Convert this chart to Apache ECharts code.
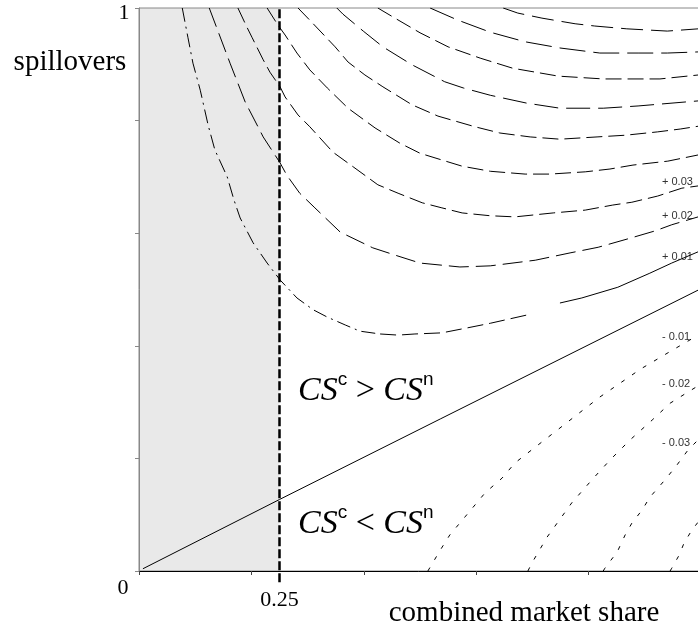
<!DOCTYPE html>
<html>
<head>
<meta charset="utf-8">
<title>CS contours</title>
<script src="https://cdn.jsdelivr.net/npm/echarts@6/dist/echarts.min.js"></script>
<style>
html, body { margin: 0; padding: 0; background: #fff; }
#chart { width: 698px; height: 632px; }
</style>
</head>
<body>
<div id="chart"></div>
<script>
// x: combined market share, y: spillovers
const shadeX = [0, 0.25]
const shadeTop = 1
const thresholdX = 0.25
const thresholdY = [-0.02, 1]

const zeroLine = [[0.007, 0.004], [0.25, 0.127], [0.536, 0.27], [0.995, 0.499]]

const plus01 = [[0.077, 1.0], [0.087, 0.948], [0.096, 0.902], [0.109, 0.854], [0.123, 0.792], [0.135, 0.748],
  [0.157, 0.700], [0.169, 0.659], [0.180, 0.627], [0.203, 0.583], [0.228, 0.547], [0.251, 0.517],
  [0.281, 0.485], [0.310, 0.464], [0.335, 0.451], [0.367, 0.437], [0.393, 0.426], [0.429, 0.421],
  [0.461, 0.419], [0.491, 0.421], [0.539, 0.423], [0.585, 0.432], [0.625, 0.440], [0.696, 0.456],
  [0.749, 0.476], [0.788, 0.485], [0.852, 0.504], [0.909, 0.529], [0.948, 0.547], [0.995, 0.567]]
const plus02 = [[0.125, 1.0], [0.162, 0.902], [0.189, 0.833], [0.221, 0.771], [0.251, 0.725], [0.263, 0.703],
  [0.286, 0.671], [0.313, 0.645], [0.358, 0.602], [0.416, 0.574], [0.459, 0.560], [0.500, 0.547],
  [0.571, 0.540], [0.625, 0.542], [0.705, 0.552], [0.767, 0.565], [0.817, 0.575], [0.870, 0.590],
  [0.918, 0.604], [0.948, 0.615], [0.995, 0.629]]
const plus03 = [[0.176, 1.0], [0.192, 0.966], [0.201, 0.948], [0.221, 0.908], [0.233, 0.886], [0.251, 0.860],
  [0.260, 0.842], [0.283, 0.810], [0.304, 0.789], [0.345, 0.744], [0.381, 0.718], [0.425, 0.686],
  [0.461, 0.671], [0.504, 0.654], [0.539, 0.645], [0.575, 0.636], [0.625, 0.631], [0.669, 0.629],
  [0.737, 0.636], [0.794, 0.641], [0.843, 0.650], [0.877, 0.655], [0.923, 0.666], [0.966, 0.680], [0.995, 0.684]]
const plus04 = [[0.228, 1.0], [0.247, 0.970], [0.260, 0.952], [0.281, 0.920], [0.304, 0.890], [0.335, 0.858],
  [0.372, 0.822], [0.420, 0.787], [0.464, 0.760], [0.500, 0.742], [0.539, 0.730], [0.575, 0.719],
  [0.625, 0.710], [0.687, 0.705], [0.731, 0.705], [0.794, 0.709], [0.838, 0.714], [0.879, 0.721],
  [0.941, 0.728], [0.995, 0.739]]
const plus05 = [[0.283, 1.0], [0.310, 0.972], [0.349, 0.931], [0.372, 0.904], [0.402, 0.881], [0.434, 0.860],
  [0.486, 0.828], [0.532, 0.808], [0.598, 0.789], [0.642, 0.778], [0.696, 0.771], [0.749, 0.767],
  [0.815, 0.771], [0.865, 0.774], [0.923, 0.780], [0.963, 0.785], [0.995, 0.790]]
const plus06 = [[0.352, 1.0], [0.363, 0.989], [0.399, 0.959], [0.434, 0.931], [0.486, 0.899], [0.544, 0.869],
  [0.577, 0.858], [0.625, 0.845], [0.690, 0.831], [0.749, 0.822], [0.826, 0.822], [0.888, 0.826], [0.995, 0.835]]
const plus07 = [[0.425, 1.0], [0.452, 0.984], [0.500, 0.956], [0.550, 0.931], [0.607, 0.911], [0.665, 0.893],
  [0.746, 0.879], [0.826, 0.874], [0.927, 0.874], [0.995, 0.881]]
const plus08 = [[0.518, 1.0], [0.566, 0.979], [0.625, 0.957], [0.687, 0.940], [0.749, 0.929], [0.820, 0.920],
  [0.888, 0.920], [0.940, 0.920], [0.995, 0.922]]
const plus09 = [[0.648, 1.0], [0.674, 0.991], [0.717, 0.982], [0.776, 0.972], [0.811, 0.968], [0.868, 0.963],
  [0.940, 0.959], [0.995, 0.963]]

const minus01 = [[0.514, 0.0], [0.536, 0.037], [0.553, 0.064], [0.580, 0.096], [0.616, 0.139], [0.646, 0.165],
  [0.669, 0.192], [0.705, 0.220], [0.740, 0.247], [0.776, 0.275], [0.820, 0.309], [0.893, 0.359],
  [0.947, 0.391], [0.995, 0.419]]
const minus02 = [[0.692, 0.0], [0.699, 0.014], [0.726, 0.060], [0.744, 0.085], [0.770, 0.121], [0.806, 0.162],
  [0.838, 0.197], [0.874, 0.233], [0.913, 0.268], [0.945, 0.298], [0.977, 0.318], [0.995, 0.329]]
const minus03 = [[0.826, 0.0], [0.829, 0.005], [0.851, 0.034], [0.865, 0.064], [0.877, 0.085], [0.895, 0.108],
  [0.909, 0.131], [0.936, 0.162], [0.957, 0.188], [0.977, 0.215], [0.995, 0.233]]
const minus04 = [[0.945, 0.0], [0.948, 0.005], [0.961, 0.028], [0.970, 0.050], [0.984, 0.073], [0.995, 0.087]]

const levelLabels = ['+ 0.03', '+ 0.02', '+ 0.01', '- 0.01', '- 0.02', '- 0.03']

const dashed = [16, 6]
const dashDot = [14, 5, 2, 5]
const dotted = [4, 9]

const contour = (data, type) => ({
  type: 'line',
  data: data,
  symbol: 'none',
  silent: true,
  lineStyle: { color: '#000', width: 1, type: type },
})

const serif = 'Liberation Serif'
const labelY = [182, 216, 257, 337, 384, 443]

const chart = echarts.init(document.getElementById('chart'))

chart.setOption({
  animation: false,
  grid: {
    left: 139,
    top: 8,
    width: 562,
    height: 563,
    outerBoundsMode: 'none',
    show: true,
    borderColor: '#888',
    borderWidth: 1,
  },
  xAxis: [
    {
      type: 'value',
      min: 0,
      max: 1,
      interval: 0.2,
      position: 'bottom',
      axisLine: { show: true, lineStyle: { color: '#000', width: 1 } },
      axisTick: { show: true, length: 4, lineStyle: { color: '#444' } },
      axisLabel: { show: false },
      splitLine: { show: false },
    },
    {
      type: 'value',
      min: 0,
      max: 1,
      interval: 0.05,
      position: 'bottom',
      axisLine: { show: false },
      axisTick: { show: false },
      splitLine: { show: false },
      axisLabel: {
        margin: 18,
        fontFamily: serif,
        fontSize: 22,
        color: '#000',
        formatter: (v) => (Math.abs(v - thresholdX) < 1e-6 ? '0.25' : ''),
      },
    },
  ],
  yAxis: {
    type: 'value',
    min: 0,
    max: 1,
    interval: 0.2,
    axisLine: { show: true, lineStyle: { color: '#888', width: 1 } },
    axisTick: { show: true, length: 4, lineStyle: { color: '#888' } },
    axisLabel: { show: false },
    splitLine: { show: false },
  },
  series: [
    {
      type: 'line',
      data: shadeX.map((x) => [x, shadeTop]),
      symbol: 'none',
      silent: true,
      z: -1,
      lineStyle: { width: 0 },
      areaStyle: { color: '#e9e9e9', opacity: 1, origin: 'start' },
    },
    contour(zeroLine, 'solid'),
    contour(plus01.slice(0, 18), dashDot),
    contour(plus01.slice(17, 24), dashed),
    contour(plus01.slice(24), 'solid'),
    contour(plus02, [20, 7]),
    contour(plus03, dashed),
    contour(plus04, dashed),
    contour(plus05, dashed),
    contour(plus06, [24, 8]),
    contour(plus07, dashed),
    contour(plus08, [26, 8]),
    contour(plus09, [22, 8]),
    contour(minus01, dotted),
    contour(minus02, dotted),
    contour(minus03, dotted),
    contour(minus04, dotted),
    {
      type: 'line',
      data: thresholdY.map((y) => [thresholdX, y]),
      symbol: 'none',
      silent: true,
      clip: false,
      lineStyle: { color: '#000', width: 2.5, type: [9, 3] },
    },
  ],
  graphic: [
    { type: 'text', x: 124, y: 13, style: { text: '1', fontFamily: serif, fontSize: 22, fill: '#000', align: 'center', verticalAlign: 'middle' } },
    { type: 'text', x: 123, y: 588, style: { text: '0', fontFamily: serif, fontSize: 22, fill: '#000', align: 'center', verticalAlign: 'middle' } },
    { type: 'text', x: 70, y: 62, style: { text: 'spillovers', fontFamily: serif, fontSize: 29, fill: '#000', align: 'center', verticalAlign: 'middle' } },
    { type: 'text', x: 524, y: 613, style: { text: 'combined market share', fontFamily: serif, fontSize: 29, fill: '#000', align: 'center', verticalAlign: 'middle' } },
    ...[['>', 391], ['<', 524]].map(([op, y]) => ({
      type: 'text',
      x: 298,
      y: y,
      style: {
        text: '{cs|CS}{sup|c}{op| ' + op + ' }{cs|CS}{sup|n}',
        align: 'left',
        verticalAlign: 'middle',
        fill: '#000',
        rich: {
          cs: { fontFamily: serif, fontStyle: 'italic', fontSize: 34, lineHeight: 42 },
          op: { fontFamily: serif, fontSize: 34, lineHeight: 42 },
          sup: { fontFamily: 'Liberation Sans', fontSize: 19, verticalAlign: 'top' },
        },
      },
    })),
    ...levelLabels.map((t, i) => ({
      type: 'text',
      x: 662,
      y: labelY[i],
      style: { text: t, fontFamily: 'Liberation Sans', fontSize: 11, fill: '#333', align: 'left', verticalAlign: 'middle' },
    })),
  ],
})
</script>
</body>
</html>
